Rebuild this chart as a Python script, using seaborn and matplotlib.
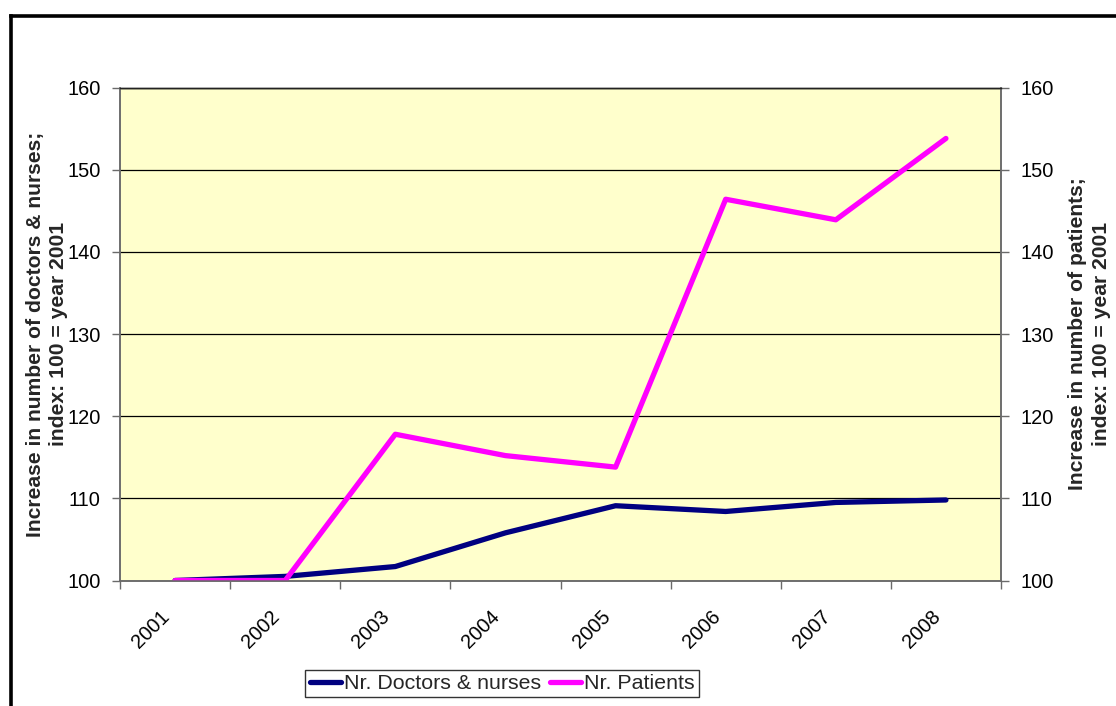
import matplotlib
matplotlib.use("Agg")
import matplotlib.pyplot as plt
import matplotlib.transforms as mtransforms
from matplotlib.lines import Line2D
import seaborn as sns
import pandas as pd

# Index values (100 = year 2001)
years = ["2001", "2002", "2003", "2004", "2005", "2006", "2007", "2008"]
doctors_nurses = [100.0, 100.5, 101.7, 105.8, 109.1, 108.4, 109.5, 109.8]
patients = [100.0, 100.0, 117.8, 115.2, 113.8, 146.4, 143.9, 153.8]
y_ticks = [100, 110, 120, 130, 140, 150, 160]

series_doctors = "Nr. Doctors & nurses"
series_patients = "Nr. Patients"
left_label = "Increase in number of doctors & nurses;\nindex: 100 = year 2001"
right_label = "Increase in number of patients;\nindex: 100 = year 2001"

sns.set_theme(style="white")
plt.rcParams["font.family"] = ["Liberation Sans", "DejaVu Sans"]

FS_TICK = 14.4
FS_LEGEND = 15.4
FS_LABEL = 15.2
NAVY = "#000080"
MAGENTA = "#FF00FF"
AXIS_GREY = "#6a6a6a"

df_doc = pd.DataFrame({"year": years, "value": doctors_nurses})
df_pat = pd.DataFrame({"year": years, "value": patients})

fig = plt.figure(figsize=(11.16, 7.06), dpi=100)
fig.patch.set_facecolor("white")
W, H = 1116, 706
ax = fig.add_axes([120 / W, 1 - 580.5 / H, (1001 - 120) / W, (580.5 - 87.5) / H])
ax.set_facecolor("#FFFFCC")
ax2 = ax.twinx()

line_kw = dict(linewidth=3.8, solid_capstyle="round", solid_joinstyle="round")
sns.lineplot(data=df_doc, x="year", y="value", ax=ax, color=NAVY,
             label=series_doctors, legend=False, **line_kw)
sns.lineplot(data=df_pat, x="year", y="value", ax=ax2, color=MAGENTA,
             label=series_patients, legend=False, **line_kw)

for a in (ax, ax2):
    a.set_ylim(100, 160)
    a.set_xlim(-0.5, len(years) - 0.5)
    a.set_yticks(y_ticks)
    a.set_xlabel("")
    a.set_ylabel("")
    for side in ("left", "right", "bottom"):
        a.spines[side].set_color(AXIS_GREY)
        a.spines[side].set_linewidth(1.1)
    a.spines["top"].set_color("#222222")
    a.spines["top"].set_linewidth(1.0)
ax2.patch.set_visible(False)

# horizontal gridlines on the primary axis
ax.yaxis.grid(True, color="black", linewidth=0.9)
ax.xaxis.grid(False)
ax.set_axisbelow(True)

# y ticks on both sides
ax.tick_params(axis="y", which="major", direction="out", length=6, width=1,
               color=AXIS_GREY, pad=8, labelsize=FS_TICK, labelcolor="black", left=True)
ax2.tick_params(axis="y", which="major", direction="out", length=6, width=1,
                color=AXIS_GREY, pad=8, labelsize=FS_TICK, labelcolor="black", right=True)

# category labels centred, tick marks at category boundaries
ax.set_xticks(range(len(years)))
ax.set_xticklabels(years)
ax.set_xticks([i - 0.5 for i in range(len(years) + 1)], minor=True)
ax.tick_params(axis="x", which="major", length=0, pad=0, labelsize=FS_TICK, labelcolor="black")
ax.tick_params(axis="x", which="minor", direction="out", length=6, width=1,
               color=AXIS_GREY, bottom=True)
ax2.tick_params(axis="x", which="both", length=0, labelbottom=False)
offset = mtransforms.ScaledTranslation(-6 / 72, -24 / 72, fig.dpi_scale_trans)
for lab in ax.get_xticklabels():
    lab.set_rotation(45)
    lab.set_ha("right")
    lab.set_va("center")
    lab.set_rotation_mode("anchor")
    lab.set_transform(lab.get_transform() + offset)

# axis titles
ax.text(-0.083, 0.5, left_label, transform=ax.transAxes, rotation=90,
        ha="center", va="center", multialignment="center",
        fontsize=FS_LABEL, fontweight="bold", linespacing=1.3)
ax.text(1.1005, 0.5, right_label, transform=ax.transAxes, rotation=90,
        ha="center", va="center", multialignment="center",
        fontsize=FS_LABEL, fontweight="bold", linespacing=1.3)

# legend below the plot
handles = [Line2D([], [], color=NAVY, linewidth=3.8, solid_capstyle="round"),
           Line2D([], [], color=MAGENTA, linewidth=3.8, solid_capstyle="round")]
leg = fig.legend(handles, [series_doctors, series_patients], loc="center",
                 bbox_to_anchor=(502 / W, 1 - 683.5 / H), ncol=2, frameon=True,
                 fancybox=False, edgecolor="black", fontsize=FS_LEGEND,
                 handlelength=1.45, handletextpad=0.15, columnspacing=0.4,
                 borderpad=0.2, borderaxespad=0)
leg.get_frame().set_linewidth(1.0)
leg.get_frame().set_facecolor("white")

# outer chart-area border (top and left edges fall inside the canvas)
fig.add_artist(Line2D([10.5 / W, 1.0], [1 - 15.5 / H, 1 - 15.5 / H],
                      transform=fig.transFigure, color="black", linewidth=2.6,
                      solid_capstyle="projecting"))
fig.add_artist(Line2D([10.5 / W, 10.5 / W], [0.0, 1 - 15.5 / H],
                      transform=fig.transFigure, color="black", linewidth=2.6,
                      solid_capstyle="projecting"))

fig.savefig("out.png", dpi=100, facecolor="white")
